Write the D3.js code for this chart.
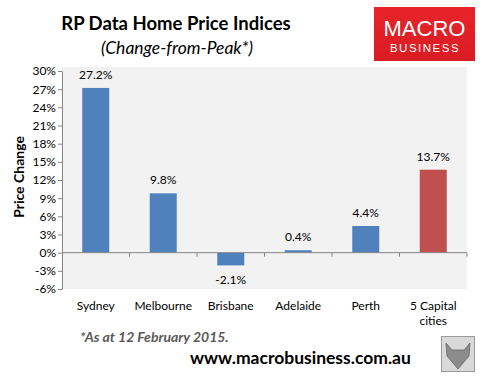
<!DOCTYPE html>
<html>
<head>
<meta charset="utf-8">
<script src="https://cdn.jsdelivr.net/npm/d3@7"></script>
<style>
  body { margin: 0; background: #fff; }
  svg { display: block; font-family: Lato, "Open Sans", sans-serif; }
</style>
</head>
<body>
<svg id="chart" width="497" height="386"></svg>
<script>
// data
const cities = ['Sydney', 'Melbourne', 'Brisbane', 'Adelaide', 'Perth', '5 Capital cities'];
const changes = [27.2, 9.8, -2.1, 0.4, 4.4, 13.7];
const barColors = ['#4f81bd', '#4f81bd', '#4f81bd', '#4f81bd', '#4f81bd', '#c0504d'];
const yTicks = [-6, -3, 0, 3, 6, 9, 12, 15, 18, 21, 24, 27, 30];

const svg = d3.select('#chart');

var plot = { left: 62, right: 467, top: 71, bottom: 289 };

let x = d3.scaleBand()
  .domain(cities)
  .range([plot.left, plot.right])
  .paddingInner(0.6)
  .paddingOuter(0.3);

let y = d3.scaleLinear()
  .domain([-6, 30])
  .range([plot.bottom, plot.top]);

// grey plot area
svg.append('rect')
  .attr('x', plot.left)
  .attr('y', plot.top - 4)
  .attr('width', plot.right - plot.left)
  .attr('height', plot.bottom - plot.top + 4)
  .attr('fill', '#f2f2f2');

// titles
svg.append('text')
  .attr('x', 176).attr('y', 30)
  .attr('text-anchor', 'middle')
  .style('font-size', '18.5px').style('font-weight', 'bold')
  .attr('fill', '#000')
  .text('RP Data Home Price Indices');
svg.append('text')
  .attr('x', 177).attr('y', 54)
  .attr('text-anchor', 'middle')
  .style('font-size', '17.5px').style('font-style', 'italic')
  .attr('fill', '#000')
  .text('(Change-from-Peak*)');

// logo
let logo = svg.append('g');
let lg = svg.append('defs').append('linearGradient')
  .attr('id', 'logoGrad').attr('x1', '0%').attr('x2', '0%').attr('y1', '0%').attr('y2', '100%');
lg.append('stop').attr('offset', '0%').style('stop-color', '#e8242a');
lg.append('stop').attr('offset', '100%').style('stop-color', '#d91c22');
logo.append('rect')
  .attr('x', 374).attr('y', 7).attr('width', 101).attr('height', 54)
  .attr('fill', 'url(#logoGrad)');
logo.append('text')
  .attr('x', 424.5).attr('y', 36)
  .attr('text-anchor', 'middle')
  .style('font-family', '"Liberation Sans", Arial, sans-serif')
  .style('font-size', '22px')
  .attr('fill', '#fff')
  .text('MACRO');
logo.append('text')
  .attr('x', 425).attr('y', 52)
  .attr('text-anchor', 'middle')
  .style('font-family', '"Liberation Sans", Arial, sans-serif')
  .style('font-size', '11.5px')
  .style('letter-spacing', '1.5px')
  .attr('fill', '#fff')
  .text('BUSINESS');

// y axis
let yAxis = svg.append('g')
  .attr('transform', 'translate(' + plot.left + ',0)')
  .call(d3.axisLeft(y).tickValues(yTicks).tickSize(4).tickSizeOuter(0).tickFormat(d => d + '%'));
yAxis.select('.domain').attr('stroke', '#868686');
yAxis.selectAll('.tick line').attr('stroke', '#868686');
yAxis.selectAll('.tick text')
  .attr('fill', '#000')
  .style('font-size', '12px')
  .style('font-family', 'Lato, "Open Sans", sans-serif')
  .attr('x', -6);

svg.append('text')
  .attr('transform', 'translate(24,' + ((plot.top + plot.bottom) / 2 - 3) + ') rotate(-90)')
  .attr('text-anchor', 'middle')
  .style('font-size', '14px').style('font-weight', 'bold')
  .attr('fill', '#000')
  .text('Price Change');

// bars
const data = cities.map((c, i) => ({ city: c, value: changes[i], color: barColors[i] }));

svg.append('g').selectAll('rect')
  .data(data)
  .enter().append('rect')
  .attr('x', d => x(d.city))
  .attr('width', x.bandwidth())
  .attr('y', d => y(Math.max(0, d.value)))
  .attr('height', d => Math.abs(y(d.value) - y(0)))
  .attr('fill', d => d.color);

// x axis at zero with ticks between categories
let zeroY = y(0);
svg.append('line')
  .attr('x1', plot.left).attr('x2', plot.right)
  .attr('y1', zeroY).attr('y2', zeroY)
  .attr('stroke', '#868686');
let bandEdges = d3.range(cities.length + 1).map(i => plot.left + i * (plot.right - plot.left) / cities.length);
svg.append('g').selectAll('line')
  .data(bandEdges.slice(1))
  .enter().append('line')
  .attr('x1', d => d).attr('x2', d => d)
  .attr('y1', zeroY).attr('y2', zeroY + 4)
  .attr('stroke', '#868686');

// value labels
svg.append('g').selectAll('text')
  .data(data)
  .enter().append('text')
  .attr('x', d => x(d.city) + x.bandwidth() / 2)
  .attr('y', d => d.value >= 0 ? y(d.value) - 9 : y(d.value) + 19)
  .attr('text-anchor', 'middle')
  .style('font-size', '12px')
  .attr('fill', '#000')
  .text(d => d.value.toFixed(1) + '%');

// category labels
let catLabels = svg.append('g').selectAll('text')
  .data(data)
  .enter().append('text')
  .attr('text-anchor', 'middle')
  .style('font-size', '12px')
  .attr('fill', '#000')
  .attr('x', d => x(d.city) + x.bandwidth() / 2)
  .attr('y', 310);
catLabels.each(function (d) {
  let el = d3.select(this);
  let parts = d.city === '5 Capital cities' ? ['5 Capital', 'cities'] : [d.city];
  parts.forEach((p, k) => {
    el.append('tspan')
      .attr('x', x(d.city) + x.bandwidth() / 2)
      .attr('dy', k === 0 ? 0 : 15)
      .text(p);
  });
});

// footnote and url
svg.append('text')
  .attr('x', 80).attr('y', 342)
  .style('font-size', '14px').style('font-weight', 'bold').style('font-style', 'italic')
  .attr('fill', '#595959')
  .text('*As at 12 February 2015.');
svg.append('text')
  .attr('x', 190).attr('y', 364)
  .style('font-size', '17.5px').style('font-weight', 'bold')
  .attr('fill', '#000')
  .text('www.macrobusiness.com.au');

// fox badge
let fox = svg.append('g');
fox.append('rect')
  .attr('x', 441.5).attr('y', 336.5).attr('width', 33).attr('height', 35)
  .attr('fill', '#d9d9d9').attr('stroke', '#9a9a9a');
fox.append('path')
  .attr('d', 'M446,343 L452,350 L464,350 L470,343 L469,356 L458,369 L447,356 Z')
  .attr('fill', '#8c8c8c').attr('stroke', '#5a5a5a').attr('stroke-width', 0.7);
</script>
</body>
</html>
